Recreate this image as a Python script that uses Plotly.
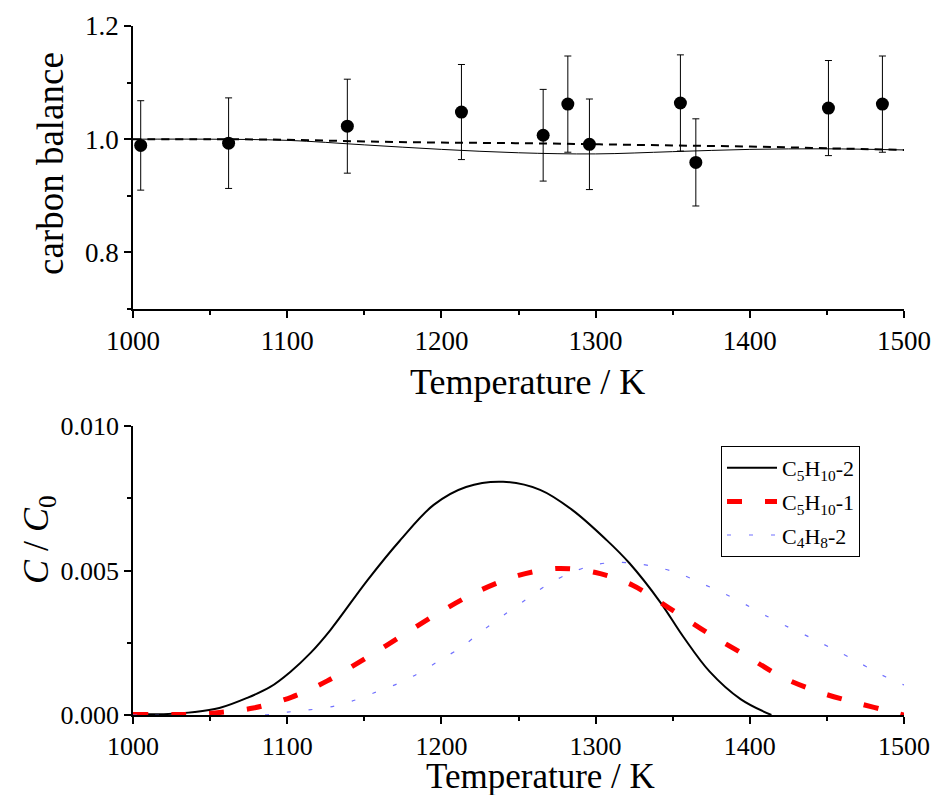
import plotly.graph_objects as go

# ---------------- data: top panel (carbon balance) ----------------
exp_T = [1005, 1062, 1139, 1213, 1266, 1282, 1296, 1355, 1365, 1451, 1486]
exp_cb = [0.989, 0.993, 1.023, 1.048, 1.007, 1.062, 0.991, 1.064, 0.959, 1.055, 1.062]
exp_err = [0.079, 0.080, 0.083, 0.084, 0.081, 0.085, 0.080, 0.085, 0.077, 0.084, 0.085]

solid_T = [1000, 1050, 1100, 1150, 1200, 1250, 1300, 1350, 1400, 1450, 1500]
solid_cb = [1.000, 1.000, 0.998, 0.990, 0.982, 0.976, 0.974, 0.978, 0.982, 0.983, 0.981]

dash_T = [1000, 1050, 1100, 1150, 1200, 1250, 1300, 1350, 1400, 1450, 1500]
dash_cb = [1.000, 1.000, 0.999, 0.996, 0.994, 0.993, 0.991, 0.989, 0.987, 0.984, 0.981]

# ---------------- data: bottom panel (C / C0) ----------------
c5h10_2_T = [1000, 1020, 1040, 1056, 1074, 1089, 1102, 1115, 1128, 1152, 1173,
             1195, 1216, 1240, 1264, 1285, 1307, 1322, 1342, 1357, 1374, 1394, 1414]
c5h10_2_C = [0.00003, 0.00003, 0.00010, 0.00024, 0.00059, 0.00097, 0.00149, 0.00214,
             0.00294, 0.00466, 0.00603, 0.00727, 0.00789, 0.00807, 0.00779,
             0.00709, 0.00606, 0.00525, 0.00390, 0.00270, 0.00150, 0.00055, 0.00000]

c5h10_1_T = [1000, 1035, 1053, 1078, 1103, 1126, 1152, 1177, 1201, 1225, 1250, 1275,
             1300, 1324, 1348, 1372, 1397, 1421, 1445, 1470, 1495, 1500]
c5h10_1_C = [0.00002, 0.00002, 0.00007, 0.00024, 0.00062, 0.00118, 0.00200, 0.00283,
             0.00362, 0.00431, 0.00483, 0.00507, 0.00493, 0.00449, 0.00369, 0.00286,
             0.00207, 0.00131, 0.00079, 0.00041, 0.00007, 0.00000]

c4h8_2_T = [1000, 1084, 1100, 1113, 1128, 1142, 1156, 1171, 1184, 1198, 1213, 1227,
            1241, 1255, 1269, 1283, 1298, 1312, 1326, 1340, 1354, 1369, 1383, 1397,
            1411, 1425, 1440, 1454, 1468, 1482, 1497, 1500]
c4h8_2_C = [0.0, 0.0, 0.00010, 0.00017, 0.00028, 0.00048, 0.00076, 0.00107, 0.00141,
            0.00186, 0.00235, 0.00293, 0.00348, 0.00400, 0.00452, 0.00490, 0.00518,
            0.00528, 0.00524, 0.00511, 0.00490, 0.00455, 0.00421, 0.00383, 0.00342,
            0.00304, 0.00266, 0.00228, 0.00190, 0.00148, 0.00110, 0.00104]

legend_names = ["C<sub>5</sub>H<sub>10</sub>-2", "C<sub>5</sub>H<sub>10</sub>-1", "C<sub>4</sub>H<sub>8</sub>-2"]
x_ticks = [1000, 1100, 1200, 1300, 1400, 1500]

W, H = 934, 795
FONT = "Liberation Serif"


def px_x(p):
    return p / W


def px_y(p):
    return 1 - p / H


fig = go.Figure()

# top panel
fig.add_trace(go.Scatter(x=solid_T, y=solid_cb, mode="lines", xaxis="x", yaxis="y",
                         line=dict(color="black", width=1, shape="spline"), showlegend=False))
fig.add_trace(go.Scatter(x=dash_T, y=dash_cb, mode="lines", xaxis="x", yaxis="y",
                         line=dict(color="black", width=2, dash="8px,6px", shape="spline"),
                         showlegend=False))
fig.add_trace(go.Scatter(x=exp_T, y=exp_cb, mode="markers", xaxis="x", yaxis="y",
                         marker=dict(color="black", size=13),
                         error_y=dict(type="data", array=exp_err, visible=True,
                                      color="black", thickness=1, width=3.5),
                         showlegend=False))

# bottom panel
fig.add_trace(go.Scatter(x=c5h10_2_T, y=c5h10_2_C, mode="lines", xaxis="x2", yaxis="y2",
                         name=legend_names[0], legendgroup="a",
                         line=dict(color="black", width=2, shape="spline", smoothing=1.0)))
fig.add_trace(go.Scatter(x=c5h10_1_T, y=c5h10_1_C, mode="lines", xaxis="x2", yaxis="y2",
                         name=legend_names[1], legendgroup="b",
                         line=dict(color="red", width=5, dash="15px,23px", shape="spline", smoothing=0.9)))
fig.add_trace(go.Scatter(x=c4h8_2_T, y=c4h8_2_C, mode="lines", xaxis="x2", yaxis="y2",
                         name=legend_names[2], legendgroup="c",
                         line=dict(color="#7070ff", width=1.2, dash="4px,18px", shape="spline", smoothing=0.9)))

xdom = [px_x(133), px_x(904)]
common = dict(showline=True, linecolor="black", linewidth=1.5, ticks="outside",
              tickwidth=1.5, tickcolor="black", showgrid=False, zeroline=False,
              mirror=False)

fig.update_layout(
    width=W, height=H,
    margin=dict(l=0, r=0, t=0, b=0, pad=0, autoexpand=False),
    paper_bgcolor="white", plot_bgcolor="white",
    font=dict(family=FONT, color="black"),
    xaxis=dict(domain=xdom, anchor="y", range=[1000, 1500], tickvals=x_ticks,
               ticklen=7, tickfont=dict(size=27, family=FONT),
               minor=dict(dtick=50, tick0=1000, ticklen=4, tickwidth=1.5, ticks="outside", tickcolor="black"),
               **common),
    yaxis=dict(domain=[px_y(309), px_y(26)], anchor="x", range=[0.7, 1.2],
               tick0=0.8, dtick=0.2, tickformat=".1f", ticklen=7,
               tickfont=dict(size=27, family=FONT),
               minor=dict(dtick=0.1, tick0=0.7, ticklen=4, tickwidth=1.5, ticks="outside", tickcolor="black"),
               **common),
    xaxis2=dict(domain=xdom, anchor="y2", range=[1000, 1500], tickvals=x_ticks,
                ticklen=7, tickfont=dict(size=26, family=FONT),
                minor=dict(dtick=50, tick0=1000, ticklen=4, tickwidth=1.5, ticks="outside", tickcolor="black"),
                **common),
    yaxis2=dict(domain=[px_y(715), px_y(426)], anchor="x2", range=[0, 0.010],
                tick0=0, dtick=0.005, tickformat=".3f", ticklen=7,
                tickfont=dict(size=26, family=FONT),
                minor=dict(dtick=0.0025, tick0=0, ticklen=4, tickwidth=1.5, ticks="outside", tickcolor="black"),
                **common),
    legend=dict(x=px_x(721), y=px_y(446), xanchor="left", yanchor="top",
                bgcolor="white", bordercolor="black", borderwidth=1,
                font=dict(size=22, family=FONT, color="black"),
                itemwidth=50,
                traceorder="grouped", tracegroupgap=2),
    annotations=[
        dict(text="Temperature / K", x=px_x(527), y=px_y(382), xref="paper", yref="paper",
             showarrow=False, xanchor="center", yanchor="middle",
             font=dict(size=36, family=FONT)),
        dict(text="carbon balance", x=px_x(51), y=px_y(164), xref="paper", yref="paper",
             showarrow=False, xanchor="center", yanchor="middle", textangle=-90,
             font=dict(size=37, family=FONT)),
        dict(text="Temperature / K", x=px_x(540), y=px_y(776), xref="paper", yref="paper",
             showarrow=False, xanchor="center", yanchor="middle",
             font=dict(size=35, family=FONT)),
        dict(text="<i>C</i> / <i>C</i><sub>0</sub>", x=px_x(38), y=px_y(540), xref="paper", yref="paper",
             showarrow=False, xanchor="center", yanchor="middle", textangle=-90,
             font=dict(size=36, family=FONT)),
    ],
)

fig.write_html("out.html")
